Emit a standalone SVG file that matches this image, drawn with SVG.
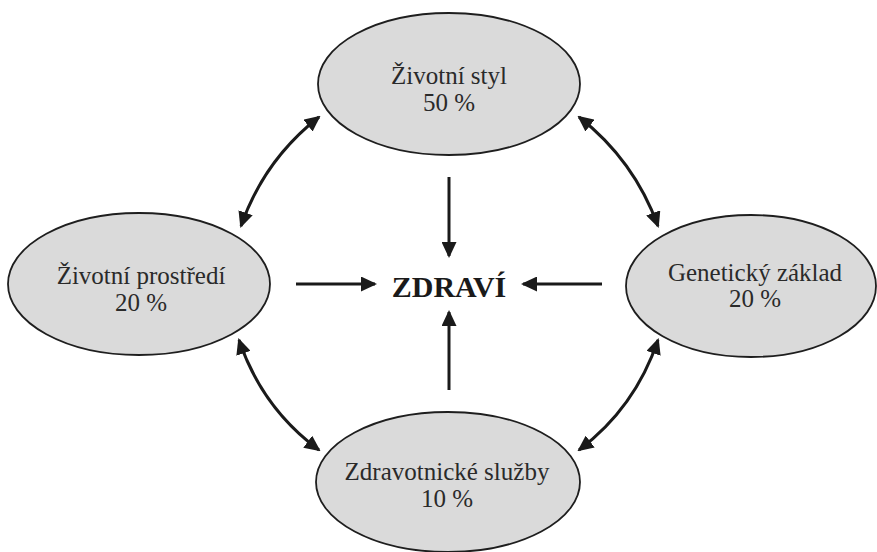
<svg xmlns="http://www.w3.org/2000/svg" width="877" height="552" viewBox="0 0 877 552">
<style>
.node ellipse{fill:#dadada;stroke:#1e1e1e;stroke-width:1.8}
.lbl{font-size:25px;fill:#2a2a2a;text-anchor:middle}
.c{fill:none;stroke:#1a1a1a;stroke-width:3}
.center{font-size:30px;font-weight:bold;fill:#1a1a1a;text-anchor:middle}
</style>
<defs>
<marker id="ah" viewBox="0 0 16 15" refX="14" refY="7.5" markerWidth="16" markerHeight="15" markerUnits="userSpaceOnUse" orient="auto-start-reverse">
<path d="M0,0 L16,7.5 L0,15 z" fill="#1a1a1a"/>
</marker>
</defs>
<rect width="877" height="552" fill="#ffffff"/>
<g font-family="'Liberation Serif', 'Times New Roman', Tinos, 'DejaVu Serif', serif">
<g id="zivotni-styl" class="node">
<ellipse cx="449" cy="84" rx="131" ry="71"/>
<text class="lbl" x="449" y="84">Životní styl</text>
<text class="lbl" x="449" y="111">50 %</text>
</g>
<g id="zivotni-prostredi" class="node">
<ellipse cx="139" cy="284" rx="131" ry="71"/>
<text class="lbl" x="141" y="284">Životní prostředí</text>
<text class="lbl" x="141" y="311">20 %</text>
</g>
<g id="geneticky-zaklad" class="node">
<ellipse cx="751" cy="286" rx="125" ry="71"/>
<text class="lbl" x="755" y="281">Genetický základ</text>
<text class="lbl" x="755" y="307">20 %</text>
</g>
<g id="zdravotnicke-sluzby" class="node">
<ellipse cx="448" cy="482" rx="132" ry="70"/>
<text class="lbl" x="447" y="480">Zdravotnické služby</text>
<text class="lbl" x="447" y="507">10 %</text>
</g>
<g id="zdravi" class="node">
<text class="center" x="449" y="297">ZDRAVÍ</text>
</g>
</g>
<g id="connectors">
<path class="c" d="M449,177 L449,256" marker-end="url(#ah)"/>
<path class="c" d="M296,284 L375,284" marker-end="url(#ah)"/>
<path class="c" d="M602,284 L523,284" marker-end="url(#ah)"/>
<path class="c" d="M449,390 L449,312" marker-end="url(#ah)"/>
<path class="c" d="M241,226 Q264,160 319,117" marker-start="url(#ah)" marker-end="url(#ah)"/>
<path class="c" d="M579,117 Q634,160 658,226" marker-start="url(#ah)" marker-end="url(#ah)"/>
<path class="c" d="M239,340 Q262,408 319,450" marker-start="url(#ah)" marker-end="url(#ah)"/>
<path class="c" d="M658,340 Q635,408 579,450" marker-start="url(#ah)" marker-end="url(#ah)"/>
</g>
</svg>
